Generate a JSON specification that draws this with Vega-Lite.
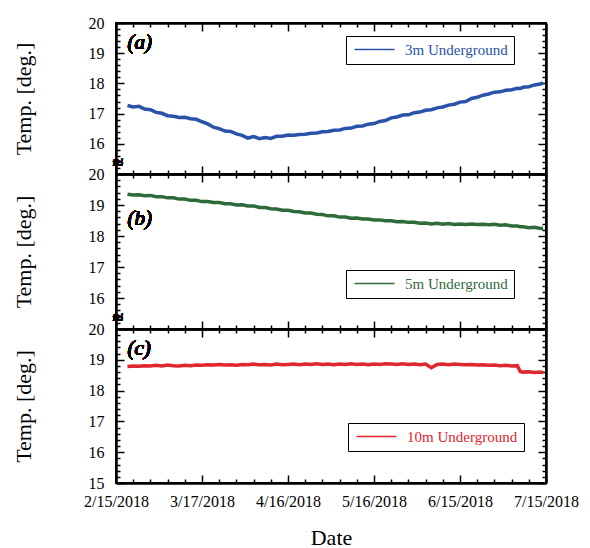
{
  "$schema": "https://vega.github.io/schema/vega-lite/v6.json",
  "padding": {"left": 11, "top": 14, "right": 5, "bottom": 0},
  "spacing": 0,
  "bounds": "flush",
  "data": {"values": [
    {"date": "2018-02-19", "t3": 17.27, "t5": 19.35, "t10": 18.78},
    {"date": "2018-02-21", "t3": 17.22, "t5": 19.32, "t10": 18.80},
    {"date": "2018-02-23", "t3": 17.24, "t5": 19.33, "t10": 18.79},
    {"date": "2018-02-25", "t3": 17.15, "t5": 19.30, "t10": 18.81},
    {"date": "2018-02-27", "t3": 17.13, "t5": 19.31, "t10": 18.80},
    {"date": "2018-03-01", "t3": 17.04, "t5": 19.27, "t10": 18.82},
    {"date": "2018-03-03", "t3": 17.01, "t5": 19.27, "t10": 18.80},
    {"date": "2018-03-05", "t3": 16.93, "t5": 19.23, "t10": 18.83},
    {"date": "2018-03-07", "t3": 16.91, "t5": 19.23, "t10": 18.81},
    {"date": "2018-03-09", "t3": 16.87, "t5": 19.19, "t10": 18.80},
    {"date": "2018-03-11", "t3": 16.88, "t5": 19.19, "t10": 18.82},
    {"date": "2018-03-13", "t3": 16.83, "t5": 19.15, "t10": 18.81},
    {"date": "2018-03-15", "t3": 16.81, "t5": 19.15, "t10": 18.83},
    {"date": "2018-03-17", "t3": 16.73, "t5": 19.11, "t10": 18.82},
    {"date": "2018-03-19", "t3": 16.66, "t5": 19.11, "t10": 18.84},
    {"date": "2018-03-21", "t3": 16.55, "t5": 19.08, "t10": 18.83},
    {"date": "2018-03-23", "t3": 16.50, "t5": 19.08, "t10": 18.85},
    {"date": "2018-03-25", "t3": 16.42, "t5": 19.04, "t10": 18.83},
    {"date": "2018-03-27", "t3": 16.41, "t5": 19.04, "t10": 18.84},
    {"date": "2018-03-29", "t3": 16.33, "t5": 19.00, "t10": 18.82},
    {"date": "2018-03-31", "t3": 16.28, "t5": 19.01, "t10": 18.85},
    {"date": "2018-04-02", "t3": 16.19, "t5": 18.97, "t10": 18.84},
    {"date": "2018-04-04", "t3": 16.24, "t5": 18.97, "t10": 18.86},
    {"date": "2018-04-06", "t3": 16.17, "t5": 18.92, "t10": 18.84},
    {"date": "2018-04-08", "t3": 16.21, "t5": 18.92, "t10": 18.85},
    {"date": "2018-04-10", "t3": 16.18, "t5": 18.88, "t10": 18.83},
    {"date": "2018-04-12", "t3": 16.25, "t5": 18.87, "t10": 18.86},
    {"date": "2018-04-14", "t3": 16.25, "t5": 18.83, "t10": 18.84},
    {"date": "2018-04-16", "t3": 16.29, "t5": 18.83, "t10": 18.85},
    {"date": "2018-04-18", "t3": 16.28, "t5": 18.79, "t10": 18.86},
    {"date": "2018-04-20", "t3": 16.31, "t5": 18.78, "t10": 18.84},
    {"date": "2018-04-22", "t3": 16.32, "t5": 18.74, "t10": 18.86},
    {"date": "2018-04-24", "t3": 16.35, "t5": 18.74, "t10": 18.85},
    {"date": "2018-04-26", "t3": 16.36, "t5": 18.70, "t10": 18.87},
    {"date": "2018-04-28", "t3": 16.40, "t5": 18.69, "t10": 18.85},
    {"date": "2018-04-30", "t3": 16.41, "t5": 18.65, "t10": 18.86},
    {"date": "2018-05-02", "t3": 16.45, "t5": 18.65, "t10": 18.84},
    {"date": "2018-05-04", "t3": 16.46, "t5": 18.61, "t10": 18.86},
    {"date": "2018-05-06", "t3": 16.51, "t5": 18.61, "t10": 18.85},
    {"date": "2018-05-08", "t3": 16.52, "t5": 18.57, "t10": 18.87},
    {"date": "2018-05-10", "t3": 16.58, "t5": 18.58, "t10": 18.85},
    {"date": "2018-05-12", "t3": 16.59, "t5": 18.55, "t10": 18.86},
    {"date": "2018-05-14", "t3": 16.65, "t5": 18.55, "t10": 18.84},
    {"date": "2018-05-16", "t3": 16.67, "t5": 18.52, "t10": 18.86},
    {"date": "2018-05-18", "t3": 16.74, "t5": 18.52, "t10": 18.85},
    {"date": "2018-05-20", "t3": 16.77, "t5": 18.49, "t10": 18.87},
    {"date": "2018-05-22", "t3": 16.86, "t5": 18.49, "t10": 18.86},
    {"date": "2018-05-24", "t3": 16.89, "t5": 18.46, "t10": 18.85},
    {"date": "2018-05-26", "t3": 16.95, "t5": 18.47, "t10": 18.87},
    {"date": "2018-05-28", "t3": 16.96, "t5": 18.44, "t10": 18.85},
    {"date": "2018-05-30", "t3": 17.03, "t5": 18.44, "t10": 18.86},
    {"date": "2018-06-01", "t3": 17.05, "t5": 18.41, "t10": 18.84},
    {"date": "2018-06-03", "t3": 17.11, "t5": 18.42, "t10": 18.86},
    {"date": "2018-06-05", "t3": 17.13, "t5": 18.39, "t10": 18.74},
    {"date": "2018-06-07", "t3": 17.19, "t5": 18.41, "t10": 18.85},
    {"date": "2018-06-09", "t3": 17.22, "t5": 18.38, "t10": 18.86},
    {"date": "2018-06-11", "t3": 17.28, "t5": 18.40, "t10": 18.84},
    {"date": "2018-06-13", "t3": 17.31, "t5": 18.37, "t10": 18.86},
    {"date": "2018-06-15", "t3": 17.38, "t5": 18.39, "t10": 18.85},
    {"date": "2018-06-17", "t3": 17.40, "t5": 18.37, "t10": 18.84},
    {"date": "2018-06-19", "t3": 17.50, "t5": 18.39, "t10": 18.85},
    {"date": "2018-06-21", "t3": 17.54, "t5": 18.37, "t10": 18.83},
    {"date": "2018-06-23", "t3": 17.61, "t5": 18.38, "t10": 18.84},
    {"date": "2018-06-25", "t3": 17.65, "t5": 18.36, "t10": 18.82},
    {"date": "2018-06-27", "t3": 17.71, "t5": 18.38, "t10": 18.83},
    {"date": "2018-06-29", "t3": 17.72, "t5": 18.35, "t10": 18.81},
    {"date": "2018-07-01", "t3": 17.77, "t5": 18.36, "t10": 18.82},
    {"date": "2018-07-03", "t3": 17.79, "t5": 18.32, "t10": 18.80},
    {"date": "2018-07-05", "t3": 17.84, "t5": 18.32, "t10": 18.81},
    {"date": "2018-07-06", "t3": 17.83, "t5": 18.30, "t10": 18.62},
    {"date": "2018-07-07", "t3": 17.87, "t5": 18.30, "t10": 18.60},
    {"date": "2018-07-09", "t3": 17.89, "t5": 18.27, "t10": 18.61},
    {"date": "2018-07-11", "t3": 17.95, "t5": 18.28, "t10": 18.59},
    {"date": "2018-07-13", "t3": 17.98, "t5": 18.24, "t10": 18.60},
    {"date": "2018-07-14", "t3": 18.02, "t5": 18.25, "t10": 18.58}
  ]},
  "vconcat": [
    {
      "width": 430, "height": 151,
      "layer": [
        {
          "mark": {"type": "line", "strokeWidth": 3.5},
          "encoding": {
            "x": {"field": "date", "type": "temporal",
              "scale": {"type": "utc", "domain": [{"year": 2018, "month": 2, "date": 15, "utc": true}, {"year": 2018, "month": 7, "date": 15, "utc": true}]},
              "axis": {"orient": "bottom", "labels": false, "title": null,
                "values": [{"year":2018,"month":2,"date":15,"utc":true},{"year":2018,"month":2,"date":21,"utc":true},{"year":2018,"month":2,"date":27,"utc":true},{"year":2018,"month":3,"date":5,"utc":true},{"year":2018,"month":3,"date":11,"utc":true},{"year":2018,"month":3,"date":17,"utc":true},{"year":2018,"month":3,"date":23,"utc":true},{"year":2018,"month":3,"date":29,"utc":true},{"year":2018,"month":4,"date":4,"utc":true},{"year":2018,"month":4,"date":10,"utc":true},{"year":2018,"month":4,"date":16,"utc":true},{"year":2018,"month":4,"date":22,"utc":true},{"year":2018,"month":4,"date":28,"utc":true},{"year":2018,"month":5,"date":4,"utc":true},{"year":2018,"month":5,"date":10,"utc":true},{"year":2018,"month":5,"date":16,"utc":true},{"year":2018,"month":5,"date":22,"utc":true},{"year":2018,"month":5,"date":28,"utc":true},{"year":2018,"month":6,"date":3,"utc":true},{"year":2018,"month":6,"date":9,"utc":true},{"year":2018,"month":6,"date":15,"utc":true},{"year":2018,"month":6,"date":21,"utc":true},{"year":2018,"month":6,"date":27,"utc":true},{"year":2018,"month":7,"date":3,"utc":true},{"year":2018,"month":7,"date":9,"utc":true},{"year":2018,"month":7,"date":15,"utc":true}],
                "tickSize": {"condition": {"test": "round((datum.value - utc(2018,1,15))/86400000) % 30 == 0", "value": -8}, "value": -4}}},
            "y": {"field": "t3", "type": "quantitative",
              "scale": {"domain": [15, 20], "nice": false, "zero": false},
              "axis": {"orient": "left", "title": "Temp. [deg.]",
                "values": [15.2,15.4,15.6,15.8,16,16.2,16.4,16.6,16.8,17,17.2,17.4,17.6,17.8,18,18.2,18.4,18.6,18.8,19,19.2,19.4,19.6,19.8,20],
                "labelExpr": "abs(datum.value - round(datum.value)) < 0.01 ? format(datum.value, 'd') : ''",
                "tickSize": {"condition": {"test": "abs(datum.value - round(datum.value)) < 0.01", "value": -8}, "value": -4}}},
            "color": {"datum": "3m Underground", "type": "nominal", "scale": {"range": ["#2a52a8"]},
              "legend": {"orient": "none", "legendX": 230, "legendY": 13, "title": null, "labelColor": "#2a52a8"}}
          }
        },
        {
          "mark": {"type": "line", "opacity": 0},
          "encoding": {
            "x": {"field": "date", "type": "temporal",
              "axis": {"orient": "top", "labels": false, "title": null,
                "values": [{"year":2018,"month":2,"date":15,"utc":true},{"year":2018,"month":2,"date":21,"utc":true},{"year":2018,"month":2,"date":27,"utc":true},{"year":2018,"month":3,"date":5,"utc":true},{"year":2018,"month":3,"date":11,"utc":true},{"year":2018,"month":3,"date":17,"utc":true},{"year":2018,"month":3,"date":23,"utc":true},{"year":2018,"month":3,"date":29,"utc":true},{"year":2018,"month":4,"date":4,"utc":true},{"year":2018,"month":4,"date":10,"utc":true},{"year":2018,"month":4,"date":16,"utc":true},{"year":2018,"month":4,"date":22,"utc":true},{"year":2018,"month":4,"date":28,"utc":true},{"year":2018,"month":5,"date":4,"utc":true},{"year":2018,"month":5,"date":10,"utc":true},{"year":2018,"month":5,"date":16,"utc":true},{"year":2018,"month":5,"date":22,"utc":true},{"year":2018,"month":5,"date":28,"utc":true},{"year":2018,"month":6,"date":3,"utc":true},{"year":2018,"month":6,"date":9,"utc":true},{"year":2018,"month":6,"date":15,"utc":true},{"year":2018,"month":6,"date":21,"utc":true},{"year":2018,"month":6,"date":27,"utc":true},{"year":2018,"month":7,"date":3,"utc":true},{"year":2018,"month":7,"date":9,"utc":true},{"year":2018,"month":7,"date":15,"utc":true}],
                "tickSize": {"condition": {"test": "round((datum.value - utc(2018,1,15))/86400000) % 30 == 0", "value": -8}, "value": -4}}},
            "y": {"field": "t3", "type": "quantitative",
              "axis": {"orient": "right", "labels": false, "title": null,
                "values": [15.2,15.4,15.6,15.8,16,16.2,16.4,16.6,16.8,17,17.2,17.4,17.6,17.8,18,18.2,18.4,18.6,18.8,19,19.2,19.4,19.6,19.8,20],
                "tickSize": {"condition": {"test": "abs(datum.value - round(datum.value)) < 0.01", "value": -8}, "value": -4}}}
          }
        },
        {
          "mark": {"type": "text", "text": "(a)", "fontSize": 21, "fontStyle": "italic", "fontWeight": "normal", "align": "left", "baseline": "middle", "color": "black"},
          "encoding": {
            "x": {"datum": {"year": 2018, "month": 2, "date": 19, "utc": true}, "type": "temporal", "axis": null},
            "y": {"datum": 19.35, "type": "quantitative", "axis": null}
          }
        },
        {
          "mark": {"type": "text", "text": "≈", "fontSize": 20, "align": "center", "baseline": "middle", "dx": 2, "color": "black"},
          "encoding": {
            "x": {"datum": {"year": 2018, "month": 2, "date": 15, "utc": true}, "type": "temporal", "axis": null},
            "y": {"datum": 15.35, "type": "quantitative", "axis": null}
          }
        }
      ],
      "resolve": {"axis": {"x": "independent", "y": "independent"}}
    },
    {
      "width": 430, "height": 155,
      "layer": [
        {
          "mark": {"type": "line", "strokeWidth": 3.5},
          "encoding": {
            "x": {"field": "date", "type": "temporal",
              "scale": {"type": "utc", "domain": [{"year": 2018, "month": 2, "date": 15, "utc": true}, {"year": 2018, "month": 7, "date": 15, "utc": true}]},
              "axis": {"orient": "bottom", "labels": false, "title": null,
                "values": [{"year":2018,"month":2,"date":15,"utc":true},{"year":2018,"month":2,"date":21,"utc":true},{"year":2018,"month":2,"date":27,"utc":true},{"year":2018,"month":3,"date":5,"utc":true},{"year":2018,"month":3,"date":11,"utc":true},{"year":2018,"month":3,"date":17,"utc":true},{"year":2018,"month":3,"date":23,"utc":true},{"year":2018,"month":3,"date":29,"utc":true},{"year":2018,"month":4,"date":4,"utc":true},{"year":2018,"month":4,"date":10,"utc":true},{"year":2018,"month":4,"date":16,"utc":true},{"year":2018,"month":4,"date":22,"utc":true},{"year":2018,"month":4,"date":28,"utc":true},{"year":2018,"month":5,"date":4,"utc":true},{"year":2018,"month":5,"date":10,"utc":true},{"year":2018,"month":5,"date":16,"utc":true},{"year":2018,"month":5,"date":22,"utc":true},{"year":2018,"month":5,"date":28,"utc":true},{"year":2018,"month":6,"date":3,"utc":true},{"year":2018,"month":6,"date":9,"utc":true},{"year":2018,"month":6,"date":15,"utc":true},{"year":2018,"month":6,"date":21,"utc":true},{"year":2018,"month":6,"date":27,"utc":true},{"year":2018,"month":7,"date":3,"utc":true},{"year":2018,"month":7,"date":9,"utc":true},{"year":2018,"month":7,"date":15,"utc":true}],
                "tickSize": {"condition": {"test": "round((datum.value - utc(2018,1,15))/86400000) % 30 == 0", "value": -8}, "value": -4}}},
            "y": {"field": "t5", "type": "quantitative",
              "scale": {"domain": [15, 20], "nice": false, "zero": false},
              "axis": {"orient": "left", "title": "Temp. [deg.]",
                "values": [15.2,15.4,15.6,15.8,16,16.2,16.4,16.6,16.8,17,17.2,17.4,17.6,17.8,18,18.2,18.4,18.6,18.8,19,19.2,19.4,19.6,19.8,20],
                "labelExpr": "abs(datum.value - round(datum.value)) < 0.01 ? format(datum.value, 'd') : ''",
                "tickSize": {"condition": {"test": "abs(datum.value - round(datum.value)) < 0.01", "value": -8}, "value": -4}}},
            "color": {"datum": "5m Underground", "type": "nominal", "scale": {"range": ["#2f6a3a"]},
              "legend": {"orient": "none", "legendX": 230, "legendY": 96, "title": null, "labelColor": "#2f6a3a"}}
          }
        },
        {
          "mark": {"type": "line", "opacity": 0},
          "encoding": {
            "x": {"field": "date", "type": "temporal",
              "axis": {"orient": "top", "labels": false, "title": null,
                "values": [{"year":2018,"month":2,"date":15,"utc":true},{"year":2018,"month":2,"date":21,"utc":true},{"year":2018,"month":2,"date":27,"utc":true},{"year":2018,"month":3,"date":5,"utc":true},{"year":2018,"month":3,"date":11,"utc":true},{"year":2018,"month":3,"date":17,"utc":true},{"year":2018,"month":3,"date":23,"utc":true},{"year":2018,"month":3,"date":29,"utc":true},{"year":2018,"month":4,"date":4,"utc":true},{"year":2018,"month":4,"date":10,"utc":true},{"year":2018,"month":4,"date":16,"utc":true},{"year":2018,"month":4,"date":22,"utc":true},{"year":2018,"month":4,"date":28,"utc":true},{"year":2018,"month":5,"date":4,"utc":true},{"year":2018,"month":5,"date":10,"utc":true},{"year":2018,"month":5,"date":16,"utc":true},{"year":2018,"month":5,"date":22,"utc":true},{"year":2018,"month":5,"date":28,"utc":true},{"year":2018,"month":6,"date":3,"utc":true},{"year":2018,"month":6,"date":9,"utc":true},{"year":2018,"month":6,"date":15,"utc":true},{"year":2018,"month":6,"date":21,"utc":true},{"year":2018,"month":6,"date":27,"utc":true},{"year":2018,"month":7,"date":3,"utc":true},{"year":2018,"month":7,"date":9,"utc":true},{"year":2018,"month":7,"date":15,"utc":true}],
                "tickSize": {"condition": {"test": "round((datum.value - utc(2018,1,15))/86400000) % 30 == 0", "value": -8}, "value": -4}}},
            "y": {"field": "t5", "type": "quantitative",
              "axis": {"orient": "right", "labels": false, "title": null,
                "values": [15.2,15.4,15.6,15.8,16,16.2,16.4,16.6,16.8,17,17.2,17.4,17.6,17.8,18,18.2,18.4,18.6,18.8,19,19.2,19.4,19.6,19.8,20],
                "tickSize": {"condition": {"test": "abs(datum.value - round(datum.value)) < 0.01", "value": -8}, "value": -4}}}
          }
        },
        {
          "mark": {"type": "text", "text": "(b)", "fontSize": 21, "fontStyle": "italic", "fontWeight": "normal", "align": "left", "baseline": "middle", "color": "black"},
          "encoding": {
            "x": {"datum": {"year": 2018, "month": 2, "date": 19, "utc": true}, "type": "temporal", "axis": null},
            "y": {"datum": 18.56, "type": "quantitative", "axis": null}
          }
        },
        {
          "mark": {"type": "text", "text": "≈", "fontSize": 20, "align": "center", "baseline": "middle", "dx": 2, "color": "black"},
          "encoding": {
            "x": {"datum": {"year": 2018, "month": 2, "date": 15, "utc": true}, "type": "temporal", "axis": null},
            "y": {"datum": 15.37, "type": "quantitative", "axis": null}
          }
        }
      ],
      "resolve": {"axis": {"x": "independent", "y": "independent"}}
    },
    {
      "width": 430, "height": 154,
      "layer": [
        {
          "mark": {"type": "line", "strokeWidth": 3.5},
          "encoding": {
            "x": {"field": "date", "type": "temporal",
              "scale": {"type": "utc", "domain": [{"year": 2018, "month": 2, "date": 15, "utc": true}, {"year": 2018, "month": 7, "date": 15, "utc": true}]},
              "axis": {"orient": "bottom", "title": "Date", "titlePadding": 14,
                "values": [{"year":2018,"month":2,"date":15,"utc":true},{"year":2018,"month":2,"date":21,"utc":true},{"year":2018,"month":2,"date":27,"utc":true},{"year":2018,"month":3,"date":5,"utc":true},{"year":2018,"month":3,"date":11,"utc":true},{"year":2018,"month":3,"date":17,"utc":true},{"year":2018,"month":3,"date":23,"utc":true},{"year":2018,"month":3,"date":29,"utc":true},{"year":2018,"month":4,"date":4,"utc":true},{"year":2018,"month":4,"date":10,"utc":true},{"year":2018,"month":4,"date":16,"utc":true},{"year":2018,"month":4,"date":22,"utc":true},{"year":2018,"month":4,"date":28,"utc":true},{"year":2018,"month":5,"date":4,"utc":true},{"year":2018,"month":5,"date":10,"utc":true},{"year":2018,"month":5,"date":16,"utc":true},{"year":2018,"month":5,"date":22,"utc":true},{"year":2018,"month":5,"date":28,"utc":true},{"year":2018,"month":6,"date":3,"utc":true},{"year":2018,"month":6,"date":9,"utc":true},{"year":2018,"month":6,"date":15,"utc":true},{"year":2018,"month":6,"date":21,"utc":true},{"year":2018,"month":6,"date":27,"utc":true},{"year":2018,"month":7,"date":3,"utc":true},{"year":2018,"month":7,"date":9,"utc":true},{"year":2018,"month":7,"date":15,"utc":true}],
                "labelExpr": "round((datum.value - utc(2018,1,15))/86400000) % 30 == 0 ? utcFormat(datum.value, '%-m/%-d/%Y') : ''",
                "tickSize": {"condition": {"test": "round((datum.value - utc(2018,1,15))/86400000) % 30 == 0", "value": -8}, "value": -4}}},
            "y": {"field": "t10", "type": "quantitative",
              "scale": {"domain": [15, 20], "nice": false, "zero": false},
              "axis": {"orient": "left", "title": "Temp. [deg.]",
                "values": [15,15.2,15.4,15.6,15.8,16,16.2,16.4,16.6,16.8,17,17.2,17.4,17.6,17.8,18,18.2,18.4,18.6,18.8,19,19.2,19.4,19.6,19.8,20],
                "labelExpr": "abs(datum.value - round(datum.value)) < 0.01 ? format(datum.value, 'd') : ''",
                "tickSize": {"condition": {"test": "abs(datum.value - round(datum.value)) < 0.01", "value": -8}, "value": -4}}},
            "color": {"datum": "10m Underground", "type": "nominal", "scale": {"range": ["#e0262e"]},
              "legend": {"orient": "none", "legendX": 232, "legendY": 94, "title": null, "labelColor": "#e0262e"}}
          }
        },
        {
          "mark": {"type": "line", "opacity": 0},
          "encoding": {
            "x": {"field": "date", "type": "temporal",
              "axis": {"orient": "top", "labels": false, "title": null,
                "values": [{"year":2018,"month":2,"date":15,"utc":true},{"year":2018,"month":2,"date":21,"utc":true},{"year":2018,"month":2,"date":27,"utc":true},{"year":2018,"month":3,"date":5,"utc":true},{"year":2018,"month":3,"date":11,"utc":true},{"year":2018,"month":3,"date":17,"utc":true},{"year":2018,"month":3,"date":23,"utc":true},{"year":2018,"month":3,"date":29,"utc":true},{"year":2018,"month":4,"date":4,"utc":true},{"year":2018,"month":4,"date":10,"utc":true},{"year":2018,"month":4,"date":16,"utc":true},{"year":2018,"month":4,"date":22,"utc":true},{"year":2018,"month":4,"date":28,"utc":true},{"year":2018,"month":5,"date":4,"utc":true},{"year":2018,"month":5,"date":10,"utc":true},{"year":2018,"month":5,"date":16,"utc":true},{"year":2018,"month":5,"date":22,"utc":true},{"year":2018,"month":5,"date":28,"utc":true},{"year":2018,"month":6,"date":3,"utc":true},{"year":2018,"month":6,"date":9,"utc":true},{"year":2018,"month":6,"date":15,"utc":true},{"year":2018,"month":6,"date":21,"utc":true},{"year":2018,"month":6,"date":27,"utc":true},{"year":2018,"month":7,"date":3,"utc":true},{"year":2018,"month":7,"date":9,"utc":true},{"year":2018,"month":7,"date":15,"utc":true}],
                "tickSize": {"condition": {"test": "round((datum.value - utc(2018,1,15))/86400000) % 30 == 0", "value": -8}, "value": -4}}},
            "y": {"field": "t10", "type": "quantitative",
              "axis": {"orient": "right", "labels": false, "title": null,
                "values": [15,15.2,15.4,15.6,15.8,16,16.2,16.4,16.6,16.8,17,17.2,17.4,17.6,17.8,18,18.2,18.4,18.6,18.8,19,19.2,19.4,19.6,19.8,20],
                "tickSize": {"condition": {"test": "abs(datum.value - round(datum.value)) < 0.01", "value": -8}, "value": -4}}}
          }
        },
        {
          "mark": {"type": "text", "text": "(c)", "fontSize": 21, "fontStyle": "italic", "fontWeight": "normal", "align": "left", "baseline": "middle", "color": "black"},
          "encoding": {
            "x": {"datum": {"year": 2018, "month": 2, "date": 19, "utc": true}, "type": "temporal", "axis": null},
            "y": {"datum": 19.35, "type": "quantitative", "axis": null}
          }
        }
      ],
      "resolve": {"axis": {"x": "independent", "y": "independent"}}
    }
  ],
  "resolve": {"scale": {"color": "independent"}, "legend": {"color": "independent"}},
  "config": {
    "font": "Liberation Serif",
    "view": {"stroke": "black", "strokeWidth": 2},
    "axis": {
      "domainColor": "black", "domainWidth": 2.5, "tickColor": "black", "tickWidth": 1.5,
      "labelFont": "Liberation Serif", "labelFontSize": 16, "labelColor": "black",
      "titleFont": "Liberation Serif", "titleFontWeight": "normal", "titleFontSize": 22, "titleColor": "black",
      "grid": false, "labelFlush": false, "labelOverlap": false, "labelBound": false
    },
    "axisX": {"labelPadding": 18},
    "axisY": {"labelPadding": 20, "titlePadding": 53},
    "legend": {
      "strokeColor": "black", "strokeWidth": 1, "padding": 6, "fillColor": "white",
      "symbolType": "M-1,0H7", "symbolSize": 100, "symbolStrokeWidth": 1.3,
      "labelFont": "Liberation Serif", "labelFontSize": 15, "labelOffset": 38
    }
  }
}
